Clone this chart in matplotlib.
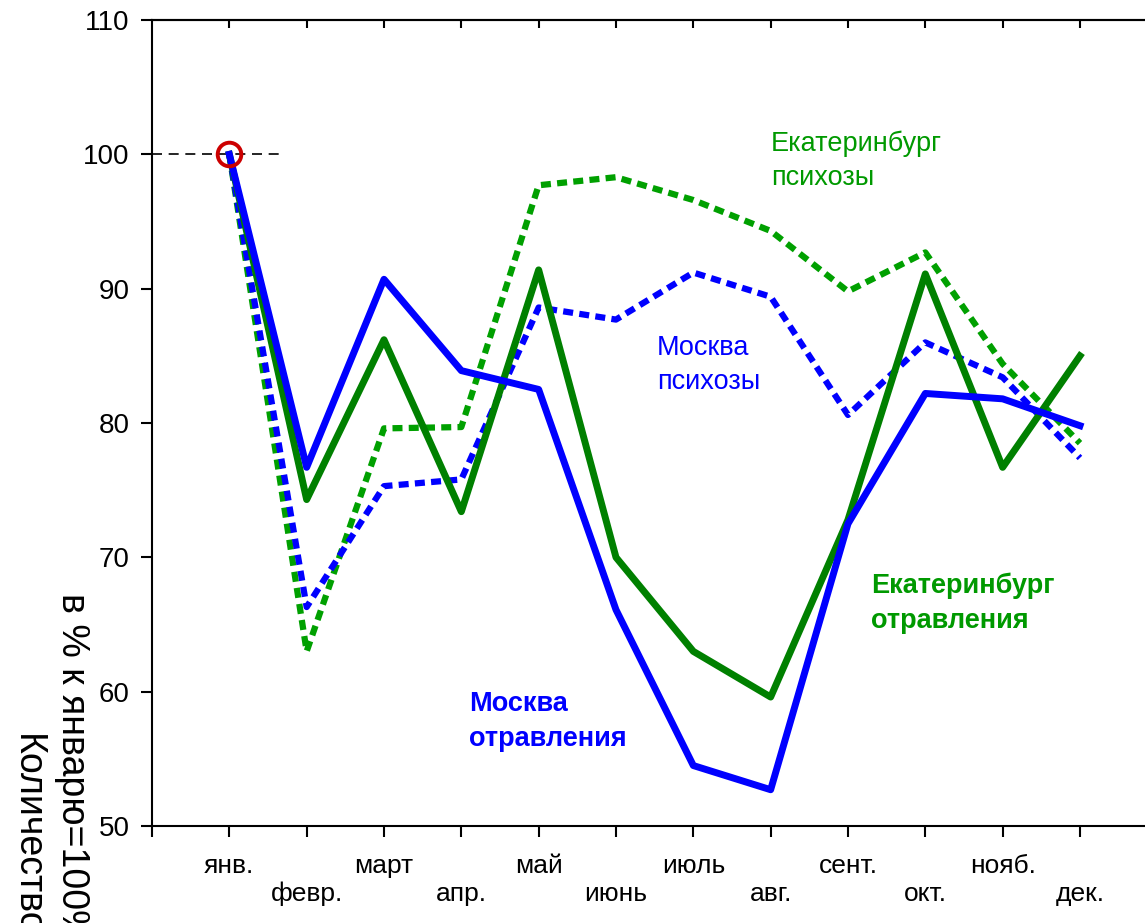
import matplotlib
matplotlib.use('Agg')
import matplotlib.pyplot as plt
import numpy as np

plt.rcParams['font.family'] = ['Liberation Sans', 'DejaVu Sans']

months = ['янв.', 'февр.', 'март', 'апр.', 'май', 'июнь',
          'июль', 'авг.', 'сент.', 'окт.', 'нояб.', 'дек.']

msk_poison = [100, 76.7, 90.7, 83.9, 82.5, 66.1, 54.5, 52.7, 72.5, 82.2, 81.8, 79.8]
ekb_poison = [100, 74.3, 86.2, 73.4, 91.4, 70.0, 63.0, 59.6, 72.8, 91.1, 76.7, 85.0]
ekb_psych = [100, 63.0, 79.6, 79.7, 97.7, 98.3, 96.6, 94.3, 89.8, 92.7, 84.4, 78.5]
msk_psych = [100, 66.3, 75.3, 75.8, 88.6, 87.7, 91.2, 89.4, 80.6, 86.0, 83.4, 77.4]

BLUE = '#0000ff'
GREEN = '#008000'
GREEN_LIGHT = '#00a000'

x = np.arange(len(months))

fig = plt.figure(figsize=(11.45, 9.23), dpi=100)
ax = fig.add_axes([0.13275, 0.1051, 0.878, 0.8732])

# psychoses - dashed
ax.plot(x, ekb_psych, color=GREEN_LIGHT, lw=4.5, linestyle=(0, (1.6, 1.0)), zorder=3)
ax.plot(x, msk_psych, color=BLUE, lw=4.5, linestyle=(0, (1.6, 1.0)), zorder=4)

# poisonings - solid
ax.plot(x, ekb_poison, color=GREEN, lw=5, zorder=5)
ax.plot(x, msk_poison, color=BLUE, lw=5, zorder=6)

# reference level at january
ax.plot([-1, 0.7], [100, 100], color='black', lw=1.2, linestyle=(0, (6, 4)), zorder=2)
ax.plot([0], [msk_poison[0]], marker='o', ms=17, mfc='none', mec='#cc0000',
        mew=2.8, zorder=7)

ax.set_xlim(-1, 12)
ax.set_ylim(50, 110)
ax.set_yticks(np.arange(50, 111, 10))

ax.set_xticks(np.arange(-1, 12))
labels = [''] + [m if i % 2 == 0 else '\n' + m for i, m in enumerate(months)]
ax.set_xticklabels(labels)
ax.tick_params(axis='both', direction='out', length=8, width=1.5, colors='black')
ax.tick_params(axis='x', pad=12, labelsize=19)
ax.tick_params(axis='y', pad=8, labelsize=20)

for s in ['left', 'bottom', 'top']:
    ax.spines[s].set_linewidth(1.5)
ax.spines['right'].set_visible(False)

top = ax.secondary_xaxis('top')
top.set_xticks(np.arange(0, 12))
top.set_xticklabels([])
top.tick_params(direction='in', length=6, width=1.5)
top.spines['top'].set_linewidth(1.5)

# series labels
ax.text(7.0, 99.55, 'Екатеринбург\nпсихозы', color='#009900', fontsize=19.5,
        ha='left', va='center', linespacing=1.4)
ax.text(5.53, 84.35, 'Москва\nпсихозы', color=BLUE, fontsize=19.5,
        ha='left', va='center', linespacing=1.4)
ax.text(8.3, 66.55, 'Екатеринбург\nотравления', color='#009900', fontsize=19.5,
        fontweight='bold', ha='left', va='center', linespacing=1.45)
ax.text(3.1, 57.8, 'Москва\nотравления', color=BLUE, fontsize=19.5,
        fontweight='bold', ha='left', va='center', linespacing=1.45)

# y axis title, partly cut by the figure edge
fig.text(0.0625, 0.358, 'в % к январю=100%', rotation=-90, fontsize=27,
         ha='center', va='top')
fig.text(0.0235, 0.205, 'Количество', rotation=-90, fontsize=27,
         ha='center', va='top')

fig.savefig('out.png', dpi=100)
